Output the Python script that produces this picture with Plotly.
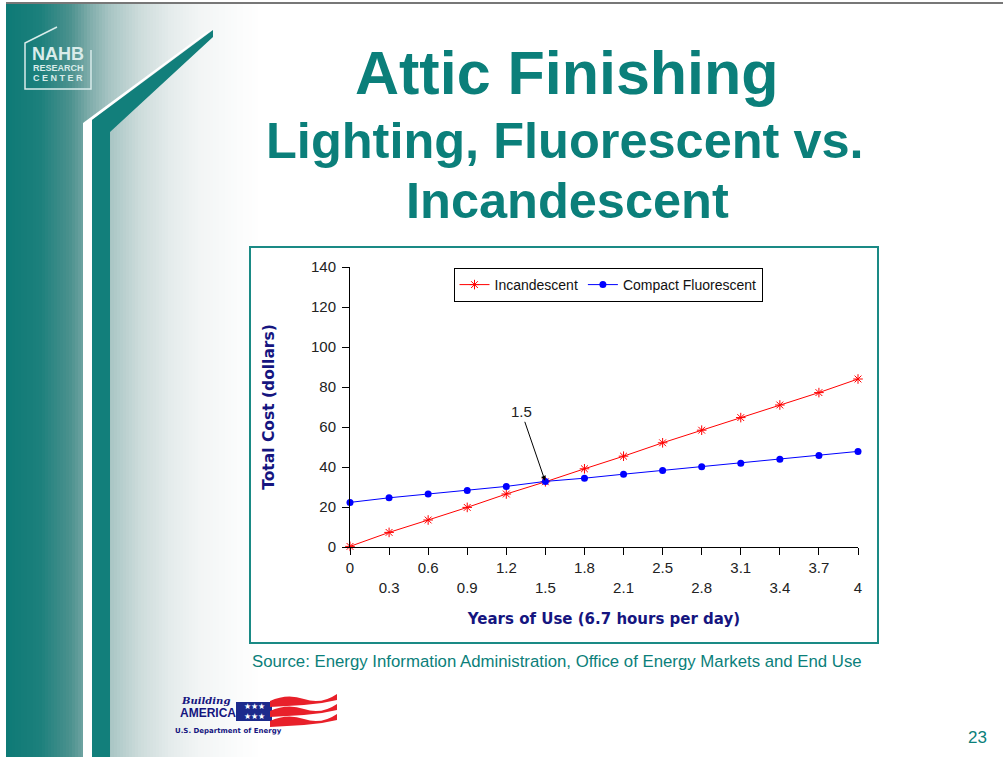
import plotly.graph_objects as go

# ---------------- data ----------------
years = ["0", "0.3", "0.6", "0.9", "1.2", "1.5", "1.8", "2.1", "2.5", "2.8", "3.1", "3.4", "3.7", "4"]
incandescent = [0.3, 7.3, 13.5, 19.8, 26.5, 32.6, 39.1, 45.4, 52.1, 58.4, 64.7, 71.0, 77.2, 84.0]
compact_fluorescent = [22.3, 24.6, 26.5, 28.3, 30.3, 32.8, 34.4, 36.4, 38.3, 40.1, 41.9, 43.9, 45.8, 47.8]
y_ticks = [0, 20, 40, 60, 80, 100, 120, 140]
crossover_label = "1.5"

# ---------------- geometry helpers (pixels -> paper) ----------------
W, H = 1003, 757
L, R, T, B = 350, 858, 267, 547


def px(x):
    return (x - L) / (R - L)


def py(y):
    return (B - y) / (B - T)


TEAL = "#0b7f7a"
NAVY = "#15157f"
TICKFONT = dict(size=15, color="#222222", family="Liberation Sans, Arial, sans-serif")

fig = go.Figure()

fig.add_trace(go.Scatter(
    x=years, y=incandescent, name="Incandescent", mode="lines+markers",
    line=dict(color="#ff0000", width=1),
    marker=dict(symbol="asterisk-open", size=8, color="#ff0000", line=dict(color="#ff0000", width=1)),
    cliponaxis=False,
))
fig.add_trace(go.Scatter(
    x=years, y=compact_fluorescent, name="Compact Fluorescent", mode="lines+markers",
    line=dict(color="#0000ff", width=1),
    marker=dict(symbol="circle", size=7, color="#0000ff"),
    cliponaxis=False,
))

shapes = []

# ---- left gradient background ----
stops = [(0, (255, 255, 255)), (6, (255, 255, 255)), (7, (14, 122, 118)), (40, (28, 128, 124)),
         (70, (75, 145, 142)), (90, (128, 173, 171)), (110, (168, 197, 196)),
         (140, (205, 220, 219)), (170, (228, 235, 235)), (200, (242, 245, 245)),
         (240, (251, 252, 252)), (262, (255, 255, 255))]


def col_at(x):
    for (x0, c0), (x1, c1) in zip(stops[:-1], stops[1:]):
        if x0 <= x <= x1:
            t = 0 if x1 == x0 else (x - x0) / (x1 - x0)
            return "rgb(%d,%d,%d)" % tuple(round(a + (b - a) * t) for a, b in zip(c0, c1))
    return "rgb(255,255,255)"


step = 3
for x in range(6, 262, step):
    shapes.append(dict(type="rect", xref="paper", yref="paper", layer="below",
                       x0=px(x), x1=px(x + step + 0.5), y0=py(H), y1=py(4),
                       fillcolor=col_at(x + step / 2), line=dict(width=0)))

# top border line
shapes.append(dict(type="line", xref="paper", yref="paper", layer="below",
                   x0=px(6), x1=px(W), y0=py(3), y1=py(3), line=dict(color="#4a4a4a", width=1.5)))

# white stripe of door
white_path = "M {} {} L {} {} L {} {} L {} {} L {} {} L {} {} Z".format(
    px(83), py(H), px(83), py(123), px(205), py(33), px(213), py(29), px(92), py(120), px(92), py(H))
shapes.append(dict(type="path", xref="paper", yref="paper", layer="below", path=white_path,
                   fillcolor="#ffffff", line=dict(width=0)))
# teal door frame
teal_path = "M {} {} L {} {} L {} {} L {} {} L {} {} L {} {} Z".format(
    px(92), py(H), px(92), py(120), px(213), py(30), px(213), py(37), px(110), py(132), px(110), py(H))
shapes.append(dict(type="path", xref="paper", yref="paper", layer="below", path=teal_path,
                   fillcolor="#127f7b", line=dict(width=0)))

# NAHB logo outline
logo_col = "#d9ecea"
nahb_path = "M {} {} L {} {} L {} {} L {} {} L {} {}".format(
    px(57), py(27), px(25), py(43), px(25), py(89), px(91), py(89), px(91), py(50))
shapes.append(dict(type="path", xref="paper", yref="paper", layer="below", path=nahb_path,
                   line=dict(color=logo_col, width=1.5)))

# chart frame
shapes.append(dict(type="rect", xref="paper", yref="paper", layer="below",
                   x0=px(250), x1=px(878), y0=py(643), y1=py(247),
                   fillcolor="#ffffff", line=dict(color="#1a8a85", width=2)))

# Building America logo pieces
shapes.append(dict(type="rect", xref="paper", yref="paper", layer="below",
                   x0=px(236), x1=px(272), y0=py(721), y1=py(702),
                   fillcolor="#1c2a8c", line=dict(width=0)))
for k, yy in enumerate([696, 706, 716]):
    fp = "M {} {} Q {} {} {} {} T {} {} L {} {} Q {} {} {} {} T {} {} Z".format(
        px(270), py(yy + 5),
        px(287), py(yy - 3), px(304), py(yy + 3),
        px(337), py(yy - 2),
        px(337), py(yy + 4),
        px(321), py(yy + 8), px(304), py(yy + 9),
        px(270), py(yy + 11))
    shapes.append(dict(type="path", xref="paper", yref="paper", layer="below", path=fp,
                       fillcolor="#e8202a", line=dict(width=0)))

annotations = []


def text(x, y, s, size, color, bold=False, family="Liberation Sans, Arial, sans-serif",
         xanchor="center", yanchor="middle", italic=False):
    if bold:
        s = "<b>" + s + "</b>"
    if italic:
        s = "<i>" + s + "</i>"
    annotations.append(dict(x=px(x), y=py(y), xref="paper", yref="paper", text=s, showarrow=False,
                            xanchor=xanchor, yanchor=yanchor,
                            font=dict(size=size, color=color, family=family)))


# titles
text(567, 73, "Attic Finishing", 61, TEAL, bold=True)
text(565, 140, "Lighting, Fluorescent vs.", 50.5, TEAL, bold=True)
text(567, 200, "Incandescent", 50.5, TEAL, bold=True)
# source & page number
text(557, 661, "Source: Energy Information Administration, Office of Energy Markets and End Use", 16.8, TEAL)
text(977, 737, "23", 17, TEAL)
# NAHB logo text
text(58, 54, "NAHB", 18, logo_col, bold=True)
text(58, 68, "RESEARCH", 9, logo_col, bold=True)
text(58, 78, "C E N T E R", 9, logo_col, bold=True)
# Building America text
text(205, 700, "Building", 10, NAVY, bold=True, italic=True, family="DejaVu Serif, serif")
text(208, 713, "AMERICA", 12, NAVY, bold=True, family="Liberation Sans, sans-serif")
text(254, 711, "★★★<br>★★★", 8, "#ffffff")
text(228, 731, "U.S. Department of Energy", 7, NAVY, bold=True, family="DejaVu Sans, sans-serif")

# crossover annotation (category index of the crossover year)
annotations.append(dict(x=years.index(crossover_label), y=incandescent[years.index(crossover_label)],
                        xref="x", yref="y", text="1.5", showarrow=True,
                        arrowhead=2, arrowsize=1, arrowwidth=1, arrowcolor="#000000",
                        ax=-24, ay=-70, standoff=1,
                        font=dict(size=15, color="#222222", family="Liberation Sans, Arial, sans-serif")))

ticktext = [("<br>" + v) if i % 2 else v for i, v in enumerate(years)]

fig.update_layout(
    width=W, height=H,
    margin=dict(l=L, r=W - R, t=T, b=H - B, pad=0),
    paper_bgcolor="#ffffff", plot_bgcolor="rgba(0,0,0,0)",
    shapes=shapes, annotations=annotations,
    showlegend=True,
    legend=dict(orientation="h", x=px(608), y=py(268), xanchor="center", yanchor="top",
                bgcolor="#ffffff", bordercolor="#000000", borderwidth=1,
                font=dict(size=14, color="#111111", family="Liberation Sans, Arial, sans-serif"),
                itemwidth=30, tracegroupgap=0),
    xaxis=dict(type="category", range=[0, len(years) - 1], tickmode="array",
               tickvals=years, ticktext=ticktext,
               showgrid=False, zeroline=False, showline=True, linecolor="#000000", linewidth=1,
               ticks="outside", ticklen=7, tickcolor="#000000", tickwidth=1,
               tickfont=TICKFONT,
               title=dict(text="<b>Years of Use (6.7 hours per day)</b>", standoff=18,
                          font=dict(size=15, color=NAVY, family="DejaVu Sans, Verdana, sans-serif"))),
    yaxis=dict(range=[0, 140], tickmode="array", tickvals=y_ticks,
               showgrid=False, zeroline=False, showline=True, linecolor="#000000", linewidth=1,
               ticks="outside", ticklen=7, tickcolor="#000000", tickwidth=1,
               ticklabelstandoff=3, tickfont=TICKFONT,
               title=dict(text="<b>Total Cost (dollars)</b>", standoff=32,
                          font=dict(size=15.5, color=NAVY, family="DejaVu Sans, Verdana, sans-serif"))),
)

fig.write_html("out.html", config={"displayModeBar": False},
               post_script="document.body.style.margin='0';")
